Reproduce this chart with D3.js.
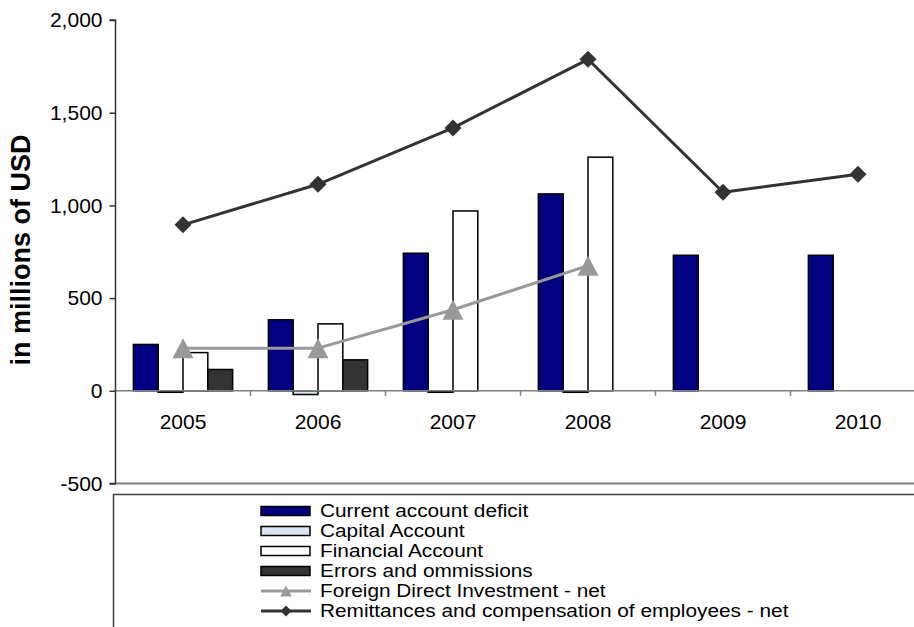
<!DOCTYPE html>
<html>
<head>
<meta charset="utf-8">
<script src="https://cdn.jsdelivr.net/npm/d3@7"></script>
<style>
  html, body { margin: 0; padding: 0; background: #fff; }
  svg { display: block; font-family: "Liberation Sans", Arial, Helvetica, sans-serif; }
</style>
</head>
<body>
<svg id="chart" width="914" height="627"></svg>
<script>
// Balance of payments components, millions of USD
const years = ["2005", "2006", "2007", "2008", "2009", "2010"];
const currentAccountDeficit = [250, 383, 742, 1062, 731, 731];
const capitalAccount = [-8, -20, -8, -8, null, null];
const financialAccount = [206, 361, 970, 1260, null, null];
const errorsOmissions = [115, 167, null, null, null, null];
const fdiNet = [230, 230, 437, 675, null, null];
const remittancesNet = [895, 1114, 1418, 1788, 1071, 1168];
const yTicks = [-500, 0, 500, 1000, 1500, 2000];

const barSeries = [
  { name: "Current account deficit", values: currentAccountDeficit, fill: "#000080" },
  { name: "Capital Account", values: capitalAccount, fill: "#dbe5f1" },
  { name: "Financial Account", values: financialAccount, fill: "#ffffff" },
  { name: "Errors and ommissions", values: errorsOmissions, fill: "#333333" }
];
const lineSeries = [
  { name: "Foreign Direct Investment - net", values: fdiNet, color: "#999999", marker: "triangle" },
  { name: "Remittances and compensation of employees - net", values: remittancesNet, color: "#333333", marker: "diamond" }
];

const svg = d3.select("#chart");
const font = 21;

const plotLeft = 115.5, step = 135;
const x = d3.scaleBand().domain(years).range([plotLeft, plotLeft + step * years.length]).padding(0);
const xInner = d3.scaleBand().domain(barSeries.map(s => s.name)).range([0, x.bandwidth()])
  .paddingInner(0).paddingOuter(0.72);
const y = d3.scaleLinear().domain([-500, 2000]).range([483.5, 20]);

const fmt = d3.formatLocale({ decimal: ".", thousands: ",", grouping: [3], currency: ["", ""], minus: "-" }).format(",");

// plot bottom border
svg.append("line")
  .attr("x1", plotLeft).attr("x2", 914)
  .attr("y1", y(-500)).attr("y2", y(-500))
  .attr("stroke", "#808080").attr("stroke-width", 2);

// bars
const barsG = svg.append("g");
barSeries.forEach(s => {
  barsG.selectAll(null)
    .data(years.map((yr, i) => ({ yr, v: s.values[i] })).filter(d => d.v != null))
    .join("rect")
    .attr("x", d => x(d.yr) + xInner(s.name))
    .attr("width", xInner.bandwidth())
    .attr("y", d => y(Math.max(0, d.v)))
    .attr("height", d => Math.abs(y(d.v) - y(0)))
    .attr("fill", s.fill)
    .attr("stroke", "#000")
    .attr("stroke-width", 1.5);
});

// category axis through zero
const xAxisG = svg.append("g").attr("transform", `translate(0,${y(0)})`);
xAxisG.append("line")
  .attr("x1", plotLeft).attr("x2", 914)
  .attr("stroke", "#808080").attr("stroke-width", 1.5);
const boundaries = d3.scaleLinear().domain([0, years.length]).range([plotLeft, plotLeft + step * years.length]);
xAxisG.selectAll(".btick")
  .data(d3.range(1, years.length))
  .join("line")
  .attr("x1", d => boundaries(d)).attr("x2", d => boundaries(d))
  .attr("y1", 0).attr("y2", 5)
  .attr("stroke", "#808080").attr("stroke-width", 1.5);
xAxisG.selectAll(".xlab")
  .data(years)
  .join("text")
  .attr("x", d => x(d) + x.bandwidth() / 2)
  .attr("y", 38)
  .attr("text-anchor", "middle")
  .attr("font-size", font)
  .attr("fill", "#000")
  .text(d => d);

// value axis
const yAxis = d3.axisLeft(y).tickValues(yTicks).tickFormat(fmt).tickSize(6).tickPadding(7);
const yAxisG = svg.append("g").attr("transform", `translate(${plotLeft},0)`).call(yAxis);
yAxisG.select(".domain").attr("stroke", "#333").attr("stroke-width", 1.5).attr("d", `M-6,${y(2000)}H0V${y(-500)}H-6`);
yAxisG.selectAll(".tick line").attr("stroke", "#333").attr("stroke-width", 1.5);
yAxisG.selectAll(".tick text").attr("font-size", font).attr("fill", "#000")
  .attr("font-family", "'Liberation Sans', Arial, sans-serif");

svg.append("text")
  .attr("transform", `translate(30,250) rotate(-90)`)
  .attr("text-anchor", "middle")
  .attr("font-size", 27)
  .attr("font-weight", "bold")
  .attr("fill", "#000")
  .text("in millions of USD");

// marker shapes
function markerPath(kind, r) {
  if (kind === "triangle") return `M0,${-r}L${r * 1.05},${r}L${-r * 1.05},${r}Z`;
  return `M0,${-r}L${r},0L0,${r}L${-r},0Z`;
}

// lines
const cx = yr => x(yr) + x.bandwidth() / 2;
lineSeries.forEach(s => {
  const pts = years.map((yr, i) => ({ yr, v: s.values[i] })).filter(d => d.v != null);
  svg.append("path")
    .datum(pts)
    .attr("fill", "none")
    .attr("stroke", s.color)
    .attr("stroke-width", 3)
    .attr("stroke-linejoin", "round")
    .attr("d", d3.line().x(d => cx(d.yr)).y(d => y(d.v)));
  svg.append("g").selectAll("path")
    .data(pts)
    .join("path")
    .attr("transform", d => `translate(${cx(d.yr)},${y(d.v)})`)
    .attr("d", markerPath(s.marker, s.marker === "triangle" ? 10 : 8.5))
    .attr("fill", s.color);
});

// legend
const legend = svg.append("g");
legend.append("rect")
  .attr("x", 113.5).attr("y", 494.5)
  .attr("width", 900).attr("height", 200)
  .attr("fill", "#fff").attr("stroke", "#404040").attr("stroke-width", 1.5);

const legendItems = barSeries.map(s => ({ type: "bar", ...s })).concat(lineSeries.map(s => ({ type: "line", ...s })));
const rowY = i => 517 + 20 * i;
legendItems.forEach((d, i) => {
  const g = legend.append("g").attr("transform", `translate(0,${rowY(i) - 6})`);
  if (d.type === "bar") {
    g.append("rect").attr("x", 261).attr("y", -4.5).attr("width", 49).attr("height", 9)
      .attr("fill", d.fill).attr("stroke", "#000").attr("stroke-width", 1.5);
  } else {
    g.append("line").attr("x1", 261).attr("x2", 311).attr("y1", 0).attr("y2", 0)
      .attr("stroke", d.color).attr("stroke-width", 3);
    g.append("path").attr("transform", "translate(286,0)")
      .attr("d", markerPath(d.marker, 5.5)).attr("fill", d.color);
  }
  // entries are set in a slightly widened face so six rows fit the 20px pitch
  legend.append("text")
    .attr("transform", `translate(320,${rowY(i)}) scale(1.19,1)`)
    .attr("font-size", 17.5)
    .attr("fill", "#000")
    .text(d.name);
});
</script>
</body>
</html>
